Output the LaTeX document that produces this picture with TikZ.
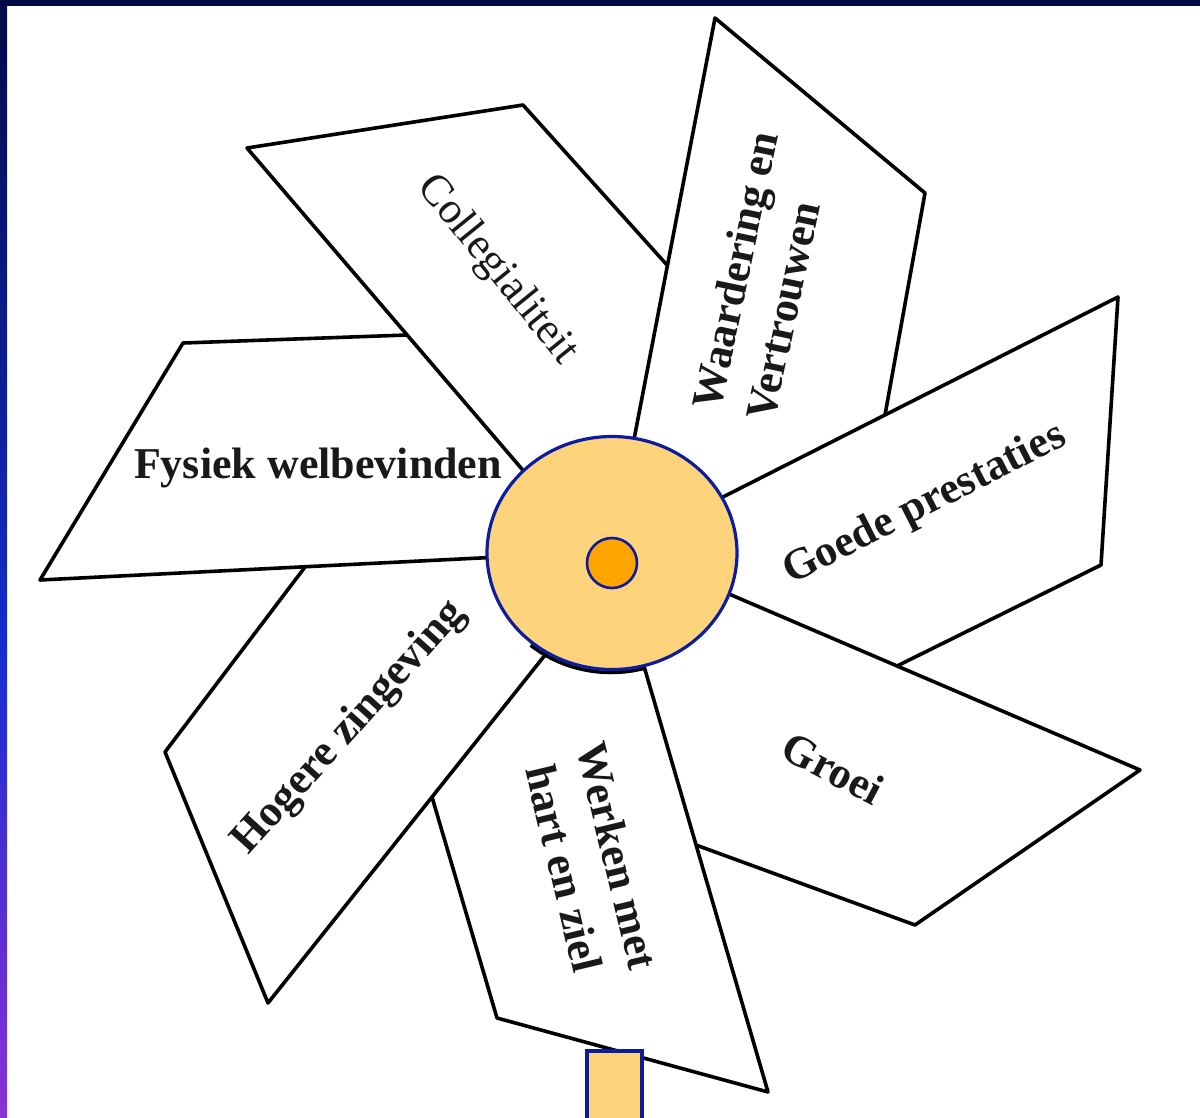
\documentclass[tikz,border=0pt]{standalone}
\usepackage{fontspec}
\setmainfont{Liberation Serif}
\usetikzlibrary{shapes.geometric}
\definecolor{hubfill}{RGB}{253,211,124}
\definecolor{hubdot}{RGB}{255,165,0}
\definecolor{hubline}{RGB}{12,28,160}
\definecolor{navy}{RGB}{2,10,72}
\definecolor{barblue}{RGB}{22,45,205}
\definecolor{barpurple}{RGB}{140,48,212}
\begin{document}
\begin{tikzpicture}[x=1pt,y=-1pt,
  blade/.style={line width=3.6pt, line join=round, line cap=round, black},
  lbl/.style={font=\fontsize{44}{55}\selectfont\bfseries, inner sep=0pt, align=center, text=black!90},
  hubstyle/.style={fill=hubfill, draw=hubline, line width=3.2pt}]
\useasboundingbox (0,0) rectangle (1200,1117);
\fill[white] (0,0) rectangle (1200,1117);
% frame
\fill[navy] (0,0) rectangle (1200,6);
\shade[top color=navy, bottom color=barblue] (0,0) rectangle (7,650);
\shade[top color=barblue, bottom color=barpurple] (0,650) rectangle (7,1117);
% blades (pinwheel outlines)
\draw[blade] (527,475) -- (247,148) -- (523,105) -- (667,265);
\draw[blade] (631,455) -- (715,18) -- (925,193) -- (885,415);
\draw[blade] (715,501) -- (1118,297) -- (1101,565) -- (897,666);
\draw[blade] (715,588) -- (1140,770) -- (915,925) -- (696,845);
\draw[blade] (632,625) -- (768,1092) -- (497,1018) -- (432,797);
\draw[blade] (557,640) -- (268,1003) -- (165,752) -- (305,567);
\draw[blade] (520,556) -- (40,580) -- (183,343) -- (407,335);
% stem
\draw[hubstyle] (587,1140) -- (587,1051) -- (642,1051) -- (642,1140);
\fill[hubfill] (588.6,1052.6) rectangle (640.4,1117);
% hub
\draw[line width=3.5pt, black] (611,556) ++(75:125 and 116.5) arc[start angle=75, end angle=130, x radius=125, y radius=116.5];
\node[hubstyle, ellipse, minimum width=250pt, minimum height=233pt, inner sep=0pt] (hub) at (612,553) {};
\node[fill=hubdot, draw=hubline, line width=2.6pt, circle, minimum size=50pt, inner sep=0pt] (dot) at (612,563) {};
% labels
\node[lbl, font=\fontsize{44}{55}\selectfont, rotate=-51] (coll) at (497,270) {Collegialiteit};
\node[lbl, align=left, rotate=78] (waard) at (762,276) {Waardering en\\Vertrouwen};
\node[lbl, rotate=27] (goede) at (925,505) {Goede prestaties};
\node[lbl, rotate=-28] (groei) at (833,768) {Groei};
\node[lbl, rotate=-76.5] (werken) at (591,862) {Werken met\\hart en ziel};
\node[lbl, rotate=48] (hogere) at (350,728) {Hogere zingeving};
\node[lbl] (fysiek) at (318,468) {Fysiek welbevinden};
\end{tikzpicture}
\end{document}
